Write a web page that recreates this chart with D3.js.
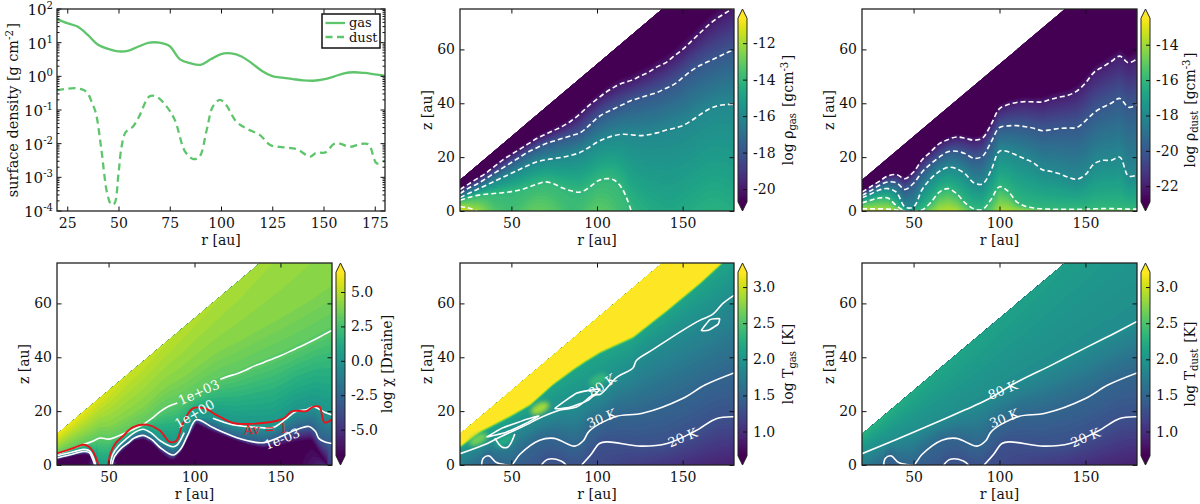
<!DOCTYPE html>
<html>
<head>
<meta charset="utf-8">
<script src="https://cdnjs.cloudflare.com/ajax/libs/d3/7.8.5/d3.min.js"></script>
<style>
body { margin: 0; background: #fff; }
text { font-family: "DejaVu Serif", serif; fill: #111; }
</style>
</head>
<body>
<script>
// radius grid shared by most of the arrays below (20, 25, ... 180 au)
var rGrid = [20,25,30,35,40,45,50,55,60,65,70,75,80,85,90,95,100,105,110,115,120,125,130,135,140,145,150,155,160,165,170,175,180];

// surface density panel
var sigmaGas = [50,38,30,17,8.7,6.5,5.5,5.8,7.8,10,10,7.8,3.2,2.45,2.2,3.2,4.6,4.8,3.9,2.45,1.45,1.02,0.91,0.83,0.76,0.74,0.81,0.98,1.23,1.32,1.26,1.15,1.05];
var sigmaDustR = [20,25,30,33,35,37,39,41.5,44.5,46.5,48,50,51.5,53.5,57,60,65,68.5,73.5,77.5,82.5,86.5,89.5,93,96,99.5,102.5,107.5,112.5,119,124,130.5,137,143.5,146.5,151,155,158,163,168,172,176,180];
var sigmaDust = [0.38,0.43,0.44,0.39,0.31,0.17,0.079,0.0079,0.00033,0.000155,0.000166,0.0013,0.0081,0.022,0.032,0.063,0.25,0.25,0.126,0.05,0.0058,0.0035,0.0041,0.025,0.126,0.2,0.14,0.045,0.028,0.018,0.0091,0.0078,0.0069,0.0041,0.0054,0.0055,0.0098,0.01,0.0081,0.0098,0.0095,0.0026,0.0032];
var yExps = [-4,-3,-2,-1,0,1,2];

// upper edge of the model wedge
var edgeR = [20,60,100,140,180];
var edgeZ = [11.5,33,54.5,76,97.5];

// gas density contours (dashed) and midplane values
var rhoGasA = [8,10,12,14,16.5,19,21,23,25,27,28.5,30,31.5,33.5,36,39,41.5,44,46,47.5,48.5,50,51.5,53.5,55,57.5,60,63,66,69,71.5,73.5,75.5];
var rhoGasB = [6.5,8.5,10,12,14,16,18,20,22,23.5,25,26,27,28,29,31.5,34.5,36.5,38,39.5,41,42,43,44,45.5,47,49.5,52,54,55.5,57,58.5,60];
var rhoGasC = [5,6.5,8,9.5,11,12.5,14,15.5,17,18.3,19,19.5,20,20.7,21.7,23.5,25.5,27,28,28.5,28.3,28,28.3,29,30,30.7,31.7,33.5,35.7,37.7,39,39.5,39.7];
var rhoGasD = [4,5,5.8,6.2,6.5,6.8,7.2,7.8,8.8,10,10.8,10,8.5,7.5,7,8.5,11,12,11.5,8,0,-3,-3,-3,-3,-3,-3,-3,-3,-3,-3,-3,-3];
var rhoGasE = [1.7,1.1,0,-2,-2,-2,-2,-2,-2,-2,-2,-2,-2,-2,-2,-2,-2,-2,-2,-2,-2,-2,-2,-2,-2,-2,-2,-2,-2,-2,-2,-2,-2];
var rhoGasMid = [-11.3,-11.3,-11.9,-12.7,-13.4,-13.6,-13.7,-13.5,-13.2,-13,-13.1,-13.3,-13.6,-13.8,-13.7,-13.4,-13.2,-13.3,-13.5,-13.8,-14,-14.3,-14.5,-14.6,-14.7,-14.7,-14.6,-14.5,-14.4,-14.3,-14.3,-14.4,-14.5];

// dust density contours (dashed) and midplane values
var rhoDustA = [7,9,11,13,13.5,12,14.5,19,22,25,26.5,27.5,27,26.3,27,32,38,39.5,40.3,40.6,40.5,40.5,41.5,42.3,43,44.5,47.5,51.5,53.5,55.5,57.5,55,56.5];
var rhoDustB = [5.8,7.5,9.5,10.8,10.5,8,10.3,14.5,17.5,20,22,22.2,21.3,19.6,20.3,25.5,31,31.6,31.7,31.3,30.7,29.8,30.2,30.7,30.8,31,33.5,36.5,38.5,40,41.8,38.5,39.5];
var rhoDustC = [5,6.3,7.8,8.3,7,1.5,1.5,8,12,14.7,16.2,15.7,13.8,10.5,10,15,22.2,22,20.7,19.3,17.8,15.3,14.7,13.8,12.5,11.8,13.5,17.5,18.8,18.8,20,13,13.3];
var rhoDustD = [3,4,4.8,4.8,2,0,0,0.4,3.2,7,8.3,6.5,3,0.8,0.5,4.2,9,7.3,3.4,1.8,1.1,0.8,0.7,0.6,0.6,0.6,0.7,0.8,0.9,0.9,0.8,0.7,0.7];
var rhoDustE = [0.8,0.8,0.8,0.7,0.4,0,-1,-1,-1,-1,-1,-1,-1,-1,-1,-1,-1,-1,-1,-1,-1,-1,-1,-1,-1,-1,-1,-1,-1,-1,-1,-1,-1];
var rhoDustMid = [-13,-13,-13,-13.2,-14.5,-17,-17,-15.5,-14.5,-13.8,-13.6,-13.8,-14.5,-15.6,-15.8,-15,-13.8,-13.8,-14,-14,-14,-14,-14,-14,-14,-14,-14,-14,-14,-14,-14,-14,-14];

// radiation field contours, Av = 1 line
var chi3Z = [4,5.2,6.4,7.5,8.6,10,9.6,10.6,12,13.4,15,17.2,19.8,21.8,23,24.5,26.5,28.3,30.2,31.8,33,34,35.3,36.8,38,39.3,40.6,42,43.5,45,46.6,48.3,50];
var chi0R = [20,30,36,39,41,42.5,44,50,51,52.5,56,60,65,70,75,80,87.5,90,94,100,110.7,122,130,138,145.6,153,159,165,169,172.7,176,180];
var chi0Z = [3.4,5,5.8,5.2,3,0,-1,-1,0,4,7.2,9.5,12,13.3,11.8,9,6.8,7.5,12,17.5,17.4,15,14.3,13.9,13.9,17,19.9,20.5,21.6,20.7,19.5,18.6];
var chiM3R = [20,30,36,39,40.5,42,44,51,52,53.5,57,61,65,70,75,80,87.5,92,96,101,110.7,122,131,140.4,160,166.5,170.4,172.3,176,180];
var chiM3Z = [2.6,4.2,5,4.5,2.5,0,-1,-1,0,3.2,6,8,10,11,9.5,6.5,3.7,6,11,16.8,13.9,10.8,9,8.3,13.3,14.3,12.4,9.9,8.5,8];
var chiDeepR = [20,30,36,39,41,44,51,53,57,61,65,70,75,80,85,88,92,96,101,110,122,131,140,150,160,168,172,176,180];
var chiDeepZ = [1.8,3.4,4,3.5,1,-2,-2,1.8,4.5,6.8,9,9.6,8,4.8,2,1.8,4.5,9.5,15.2,12.4,9.5,7.5,6.2,7,8.5,9,5,1,-2];
var chiMidR = [20,38,42,44,50,52,55,160,170,180];
var chiMidV = [-7,-7,-3,0.5,0.5,-3,-7,-7,-6,-4.5];
var chiEdgeV = [6.3,5.4,4.9,4.6,4.4];
var avR = [20,30,35,38,41,43,44.2,46,48.5,49.8,51,54,58,64,72,80,85.5,89.5,93,99,107,110.7,122.4,129.4,151,157,165,169,172.7,175.6,180];
var avZ = [4.3,6.4,7.5,7,5,2,0,-2,-2,0,4,8,10.5,14,15,12.7,8.6,9,15,21,20.8,19.3,15.6,15.2,17,20,20,21.6,21.6,15.8,17];

// temperature contours
var t80GasR = [20,36,43.4,59,65,78.4,88,97.8,102,111.5,121,123,133,150,160,167.7,173.5,180];
var t80GasZ = [4.2,8,10.4,15,17,20.4,21.5,26,26.3,32.5,36,38.8,43,50,53.7,56,60,63];
var t80DustR = [20,40,65.5,80,92.7,110,130,150,165,180];
var t80DustZ = [4.2,9.5,16.4,20.5,24.2,30.7,37,43.5,48.3,53.3];
var t30R = [20,30,32.6,33.6,36.9,41.3,46,50,55,66.5,75,87,92,95.6,111,126.6,150,163,180];
var t30Z = [-3,-1,0,2.5,3.4,0.9,0.2,0,4,9.2,9.9,7,9,12.7,18,19.2,24.7,29.7,34.2];
var t20R = [20,60,67.5,71.4,79,82,86,91,96.6,101.4,106,125.6,141,157.6,170,180];
var t20Z = [-3,-2,0,2.1,1.5,0,-0.5,0,4,8,8.6,7,8,12.7,17.3,17.9];
var tMidR = [20,30,37,45,50,60,70,82,90,100,120,140,160,180];
var tMidV = [1.75,1.52,1.42,1.48,1.47,1.38,1.3,1.3,1.31,1.24,1.13,1.05,0.95,0.88];
var tDustEdgeV = [2.3,2.18,2.12,2.08,2.05];

// hot surface layer of the gas, closed loops and warm spots
var hotR = [20,32,49,61,74,86,93,102,121,140,160,172,180];
var hotZ = [7.4,13,18.6,23,30.4,36,39,42.5,48,57.5,68,75,80];
var loop1R = [35.7,45,52,59,66,58,47];
var loop1Z = [10.4,13.8,15.4,17,18.2,15.3,12.2];
var loop2R = [75.5,88.3,101.7,94.7,84.2];
var loop2Z = [21,26.7,28.2,24,21.4];
var loop3R = [161,166,171.6,170.6,165];
var loop3Z = [50,54,54.3,52.2,50];
var pocketR = [40.4,44.5,48,52];
var pocketZ = [10,6.7,6.7,11.5];
var warmR = [30.7,66.7,100.6,46];
var warmZ = [9.5,21,31.6,9];
var warmV = [2.65,2.85,2.35,2.2];

// contour labels
var chiLabels = [
    {text: "1e+03", r: 102.5, z: 27, angle: -24},
    {text: "1e+00", r: 100, z: 19, angle: -30},
    {text: "1e-03", r: 151, z: 9.7, angle: -22}
];
var avLabels = [{text: "Av = 1", r: 141.4, z: 13.4, angle: -3}];
var tGasLabels = [
    {text: "80 K", r: 103, z: 29.5, angle: -35},
    {text: "30 K", r: 102.7, z: 17.3, angle: -22},
    {text: "20 K", r: 150, z: 10.2, angle: -22}
];
var tDustLabels = [
    {text: "80 K", r: 101.8, z: 27.8, angle: -22},
    {text: "30 K", r: 102.7, z: 17.3, angle: -22},
    {text: "20 K", r: 150, z: 10.2, angle: -22}
];

var width = 1200, height = 504;
var green = "#5fc56c";
var tickSize = 14, tickLen = 4.5, labelSize = 14;

var svg = d3.select("body").append("svg")
    .attr("width", width)
    .attr("height", height)
    .style("display", "block");
var defs = svg.append("defs");
defs.append("filter").attr("id", "soft")
    .attr("x", "-50%").attr("y", "-50%").attr("width", "200%").attr("height", "200%")
    .append("feGaussianBlur").attr("stdDeviation", 2);

function zipPts(rs, zs) {
    return rs.map(function (r, i) { return [r, zs[i]]; });
}

// label is a list of [text, style] runs, style "sub" or "sup" shifts the run
function addRuns(sel, runs, size) {
    runs.forEach(function (run) {
        var t = sel.append("tspan").text(run[0]);
        if (run[1] == "sup") {
            t.attr("font-size", size * 0.72).attr("dy", -size * 0.36);
            sel.append("tspan").attr("dy", size * 0.36).text("\u200a");
        } else if (run[1] == "sub") {
            t.attr("font-size", size * 0.72).attr("dy", size * 0.2);
            sel.append("tspan").attr("dy", -size * 0.2).text("\u200a");
        }
    });
}

function vertLabel(xPos, yPos, runs, size) {
    var t = svg.append("text")
        .attr("transform", "translate(" + xPos + "," + yPos + ") rotate(-90)")
        .attr("text-anchor", "middle")
        .attr("font-size", size);
    addRuns(t, runs, size);
}

function drawFrame(g, w, h, x, y, xTicks, yTicks) {
    g.append("g").attr("transform", "translate(0," + h + ")")
        .call(d3.axisBottom(x).tickValues(xTicks).tickSizeInner(-tickLen).tickSizeOuter(0).tickPadding(7).tickFormat(d3.format("d")))
        .call(cleanAxis);
    g.append("g")
        .call(d3.axisTop(x).tickValues(xTicks).tickSizeInner(-tickLen).tickSizeOuter(0).tickFormat(""))
        .call(cleanAxis);
    if (yTicks) {
        g.append("g")
            .call(d3.axisLeft(y).tickValues(yTicks).tickSizeInner(-tickLen).tickSizeOuter(0).tickPadding(5).tickFormat(d3.format("d")))
            .call(cleanAxis);
        g.append("g").attr("transform", "translate(" + w + ",0)")
            .call(d3.axisRight(y).tickValues(yTicks).tickSizeInner(-tickLen).tickSizeOuter(0).tickFormat(""))
            .call(cleanAxis);
    }
    g.append("rect").attr("width", w).attr("height", h)
        .attr("fill", "none").attr("stroke", "#222").attr("stroke-width", 1.3);
}

function cleanAxis(a) {
    a.select(".domain").remove();
    a.selectAll("line").attr("stroke", "#111").attr("stroke-width", 1);
    a.selectAll("text").attr("font-size", tickSize).attr("font-family", "DejaVu Serif").attr("fill", "#111");
}

function drawColorbar(x0, y0, h, lo, hi, ticks, fmt, color) {
    var w = 9, cap = h / 22;
    var cy = d3.scaleLinear().domain([lo, hi]).range([y0 + h - cap, y0 + cap]);
    var g = svg.append("g");
    var steps = d3.range(lo, hi, (hi - lo) / 128);
    g.selectAll("rect").data(steps).enter().append("rect")
        .attr("x", x0).attr("width", w)
        .attr("y", function (d) { return cy(d) - (cy.range()[0] - cy.range()[1]) / 128 - 0.5; })
        .attr("height", (cy.range()[0] - cy.range()[1]) / 128 + 1)
        .attr("fill", function (d) { return color(d); });
    g.append("path")
        .attr("d", "M" + x0 + "," + (y0 + cap) + "L" + (x0 + w / 2) + "," + y0 + "L" + (x0 + w) + "," + (y0 + cap) + "Z")
        .attr("fill", color(hi));
    g.append("path")
        .attr("d", "M" + x0 + "," + (y0 + h - cap) + "L" + (x0 + w / 2) + "," + (y0 + h) + "L" + (x0 + w) + "," + (y0 + h - cap) + "Z")
        .attr("fill", color(lo));
    g.append("path")
        .attr("d", "M" + x0 + "," + (y0 + cap) + "L" + (x0 + w / 2) + "," + y0 + "L" + (x0 + w) + "," + (y0 + cap)
            + "L" + (x0 + w) + "," + (y0 + h - cap) + "L" + (x0 + w / 2) + "," + (y0 + h) + "L" + x0 + "," + (y0 + h - cap) + "Z")
        .attr("fill", "none").attr("stroke", "#222").attr("stroke-width", 1);
    g.append("g").attr("transform", "translate(" + (x0 + w) + ",0)")
        .call(d3.axisRight(cy).tickValues(ticks).tickSizeInner(-4).tickSizeOuter(0).tickPadding(6).tickFormat(fmt))
        .call(cleanAxis);
}

// value of the field between the layers, read column by column
function buildField(layers, midR, midV, nx, ny, rs, zs) {
    var mid = d3.scaleLinear().domain(midR).range(midV).clamp(true);
    var fns = layers.map(function (l) {
        return {
            z: d3.scaleLinear().domain(l.r).range(l.z).clamp(true),
            v: Array.isArray(l.v) ? d3.scaleLinear().domain(l.r).range(l.v).clamp(true) : function () { return l.v; }
        };
    });
    var values = new Array(nx * ny);
    for (var i = 0; i < nx; i++) {
        var r = rs(i + 0.5);
        var nodes = [{z: 0, v: mid(r)}];
        fns.forEach(function (f) {
            var z = f.z(r);
            if (z > 0) nodes.push({z: z, v: f.v(r)});
        });
        nodes.sort(function (a, b) { return a.z - b.z; });
        var prof = d3.scaleLinear()
            .domain(nodes.map(function (n) { return n.z; }))
            .range(nodes.map(function (n) { return n.v; }))
            .clamp(true);
        for (var j = 0; j < ny; j++) {
            values[i + j * nx] = prof(zs(j + 0.5));
        }
    }
    return values;
}

var panelCount = 0;
function heatPanel(p) {
    panelCount++;
    var w = p.x1 - p.x0, h = p.y1 - p.y0;
    var x = d3.scaleLinear().domain([20, 180]).range([0, w]);
    var y = d3.scaleLinear().domain([0, 75]).range([h, 0]);
    var color = function (v) {
        return d3.interpolateViridis(Math.max(0, Math.min(1, (v - p.lo) / (p.hi - p.lo))));
    };
    var g = svg.append("g").attr("transform", "translate(" + p.x0 + "," + p.y0 + ")");

    var wedgeId = "wedge" + panelCount, boxId = "box" + panelCount;
    var area = d3.area().x(function (d) { return x(d[0]); }).y0(y(0)).y1(function (d) { return y(d[1]); });
    defs.append("clipPath").attr("id", boxId).append("rect").attr("width", w).attr("height", h);
    defs.append("clipPath").attr("id", wedgeId).append("path").attr("d", area(zipPts(edgeR, edgeZ)));

    var nx = Math.round(w / 1.5), ny = Math.round(h / 1.5);
    var gx = d3.scaleLinear().domain([0, nx]).range([20, 180]);
    var gy = d3.scaleLinear().domain([0, ny]).range([75, 0]);
    var values = buildField(p.layers, p.midR, p.midV, nx, ny, gx, gy);
    var thresholds = d3.range(p.lo - 1.5, p.hi + 1.5, p.step);
    var contours = d3.contours().size([nx, ny]).thresholds(thresholds)(values);
    var px = d3.scaleLinear().domain([0, nx]).range([0, w]);
    var py = d3.scaleLinear().domain([0, ny]).range([0, h]);
    var geo = d3.geoPath(d3.geoTransform({
        point: function (a, b) { this.stream.point(px(a), py(b)); }
    }));

    var boxed = g.append("g").attr("clip-path", "url(#" + boxId + ")");
    var heat = boxed.append("g").attr("clip-path", "url(#" + wedgeId + ")");
    heat.selectAll("path").data(contours).enter().append("path")
        .attr("d", geo)
        .attr("fill", function (d) { return color(d.value + p.step / 2); });

    if (p.warm) {
        heat.selectAll("ellipse").data(warmR).enter().append("ellipse")
            .attr("transform", function (d, i) { return "translate(" + x(d) + "," + y(warmZ[i]) + ") rotate(-28)"; })
            .attr("rx", 10).attr("ry", 5)
            .attr("fill", function (d, i) { return color(warmV[i]); })
            .attr("filter", "url(#soft)");
    }

    var line = d3.line()
        .x(function (d) { return x(d[0]); })
        .y(function (d) { return y(d[1]); })
        .curve(d3.curveCatmullRom.alpha(0.5));

    // parts of a contour below the midplane or under a label are left out
    p.lines.forEach(function (l) {
        var gap = l.gap;
        var path = line.defined(function (d) {
            return d[1] >= 0 && (!gap || d[0] <= gap[0] || d[0] >= gap[1]);
        });
        boxed.append("path")
            .attr("d", path(zipPts(l.r, l.z)))
            .attr("fill", "none")
            .attr("stroke", l.color || "#fff")
            .attr("stroke-width", l.width || 1.6)
            .attr("stroke-dasharray", p.dash ? "5,3" : null);
    });

    var closed = d3.line()
        .x(function (d) { return x(d[0]); })
        .y(function (d) { return y(d[1]); })
        .curve(d3.curveCardinalClosed.tension(0.6));
    (p.loops || []).forEach(function (l) {
        boxed.append("path")
            .attr("d", closed(zipPts(l.r, l.z)))
            .attr("fill", "none").attr("stroke", "#fff").attr("stroke-width", 1.6);
    });
    (p.open || []).forEach(function (l) {
        boxed.append("path")
            .attr("d", d3.line().x(function (d) { return x(d[0]); }).y(function (d) { return y(d[1]); }).curve(d3.curveCatmullRom.alpha(0.5))(zipPts(l.r, l.z)))
            .attr("fill", "none").attr("stroke", "#fff").attr("stroke-width", 1.6);
    });

    (p.labels || []).forEach(function (l) {
        g.append("text")
            .attr("transform", "translate(" + x(l.r) + "," + y(l.z) + ") rotate(" + l.angle + ")")
            .attr("text-anchor", "middle").attr("dy", "0.35em")
            .attr("font-size", 13)
            .style("fill", l.color || "#fff")
            .text(l.text);
    });

    drawFrame(g, w, h, x, y, [50, 100, 150], [0, 20, 40, 60]);
    g.append("text").attr("x", w / 2).attr("y", h + 34)
        .attr("text-anchor", "middle").attr("font-size", labelSize).text("r [au]");
    vertLabel(p.x0 - 28.5, p.y0 + 101, [["z [au]"]], labelSize);

    drawColorbar(p.x1 + 4, p.y0, h, p.lo, p.hi, p.ticks, p.fmt, color);
    vertLabel(p.x1 + p.labelOff, p.y0 + 101, p.label, labelSize);
}

// top left panel
(function () {
    var x0 = 57, x1 = 385, y0 = 9, y1 = 211;
    var w = x1 - x0, h = y1 - y0;
    var x = d3.scaleLinear().domain([20, 180]).range([0, w]);
    var y = d3.scaleLog().domain([1e-4, 1e2]).range([h, 0]);
    var g = svg.append("g").attr("transform", "translate(" + x0 + "," + y0 + ")");
    defs.append("clipPath").attr("id", "box0").append("rect").attr("width", w).attr("height", h);

    var line = d3.line()
        .x(function (d) { return x(d[0]); })
        .y(function (d) { return y(d[1]); })
        .curve(d3.curveCatmullRom.alpha(0.5));
    var plot = g.append("g").attr("clip-path", "url(#box0)");
    plot.append("path").attr("d", line(zipPts(rGrid, sigmaGas)))
        .attr("fill", "none").attr("stroke", green).attr("stroke-width", 2.3);
    plot.append("path").attr("d", line(zipPts(sigmaDustR, sigmaDust)))
        .attr("fill", "none").attr("stroke", green).attr("stroke-width", 2.3).attr("stroke-dasharray", "7,4.5");

    var majors = yExps.map(function (e) { return Math.pow(10, e); });
    var minors = [];
    yExps.slice(0, -1).forEach(function (e) {
        d3.range(2, 10).forEach(function (k) { minors.push(k * Math.pow(10, e)); });
    });
    g.selectAll("line.minor").data(minors).enter().append("line")
        .attr("class", "minor").attr("x1", 0).attr("x2", 2.5)
        .attr("y1", y).attr("y2", y).attr("stroke", "#111");
    g.selectAll("line.minorr").data(minors).enter().append("line")
        .attr("class", "minorr").attr("x1", w - 2.5).attr("x2", w)
        .attr("y1", y).attr("y2", y).attr("stroke", "#111");
    g.selectAll("line.major").data(majors).enter().append("line")
        .attr("class", "major").attr("x1", 0).attr("x2", tickLen)
        .attr("y1", y).attr("y2", y).attr("stroke", "#111");
    g.selectAll("line.majorr").data(majors).enter().append("line")
        .attr("class", "majorr").attr("x1", w - tickLen).attr("x2", w)
        .attr("y1", y).attr("y2", y).attr("stroke", "#111");
    yExps.forEach(function (e) {
        var t = g.append("text")
            .attr("x", -4).attr("y", y(Math.pow(10, e)) + 6)
            .attr("text-anchor", "end").attr("font-size", tickSize + 1);
        t.append("tspan").text("10");
        t.append("tspan").attr("font-size", tickSize * 0.72).attr("dy", -6).text(e);
    });

    drawFrame(g, w, h, x, y, [25, 50, 75, 100, 125, 150, 175], null);
    g.append("text").attr("x", w / 2).attr("y", h + 34)
        .attr("text-anchor", "middle").attr("font-size", labelSize).text("r [au]");
    vertLabel(18, y0 + 101, [["surface density [g cm"], ["-2", "sup"], ["]"]], 14.4);

    // legend
    var lg = g.append("g").attr("transform", "translate(" + (322 - x0) + "," + (14 - y0) + ")");
    lg.append("rect").attr("width", 58).attr("height", 34)
        .attr("fill", "#fff").attr("stroke", "#111").attr("stroke-width", 1.5);
    lg.append("line").attr("x1", 3.5).attr("x2", 23).attr("y1", 9).attr("y2", 9)
        .attr("stroke", green).attr("stroke-width", 2.3);
    lg.append("line").attr("x1", 3.5).attr("x2", 23).attr("y1", 23).attr("y2", 23)
        .attr("stroke", green).attr("stroke-width", 2.3).attr("stroke-dasharray", "7,4.5");
    lg.append("text").attr("x", 27).attr("y", 13).attr("font-size", 13).text("gas");
    lg.append("text").attr("x", 27).attr("y", 28).attr("font-size", 13).text("dust");
})();

var fmt1 = function (d) { return d3.format(".1f")(d).replace("\u2212", "-"); };
var fmt0 = function (d) { return String(d); };

heatPanel({
    x0: 460, x1: 734, y0: 9, y1: 211, lo: -20.7, hi: -10.63, step: 0.12, dash: true,
    midR: rGrid, midV: rhoGasMid,
    layers: [
        {r: rGrid, z: rhoGasE, v: -12},
        {r: rGrid, z: rhoGasD, v: -14},
        {r: rGrid, z: rhoGasC, v: -16},
        {r: rGrid, z: rhoGasB, v: -18},
        {r: rGrid, z: rhoGasA, v: -20},
        {r: rGrid, z: rhoGasA.map(function (z, i) { return z + rGrid[i] * 0.03; }), v: -21}
    ],
    lines: [
        {r: rGrid, z: rhoGasA}, {r: rGrid, z: rhoGasB}, {r: rGrid, z: rhoGasC},
        {r: rGrid, z: rhoGasD}, {r: rGrid, z: rhoGasE}
    ],
    ticks: [-20, -18, -16, -14, -12], fmt: fmt0, labelOff: 59,
    label: [["log \u03c1"], ["gas", "sub"], [" [gcm"], ["-3", "sup"], ["]"]]
});

heatPanel({
    x0: 862, x1: 1137, y0: 9, y1: 211, lo: -22.88, hi: -12.5, step: 0.12, dash: true,
    midR: rGrid, midV: rhoDustMid,
    layers: [
        {r: rGrid, z: rhoDustE, v: -14},
        {r: rGrid, z: rhoDustD, v: -16},
        {r: rGrid, z: rhoDustC, v: -18},
        {r: rGrid, z: rhoDustB, v: -20},
        {r: rGrid, z: rhoDustA, v: -22},
        {r: rGrid, z: rhoDustA.map(function (z, i) { return z + rGrid[i] * 0.03; }), v: -23.5}
    ],
    lines: [
        {r: rGrid, z: rhoDustA}, {r: rGrid, z: rhoDustB}, {r: rGrid, z: rhoDustC},
        {r: rGrid, z: rhoDustD}, {r: rGrid, z: rhoDustE}
    ],
    ticks: [-22, -20, -18, -16, -14], fmt: fmt0, labelOff: 58,
    label: [["log \u03c1"], ["dust", "sub"], [" [gcm"], ["-3", "sup"], ["]"]]
});

heatPanel({
    x0: 57, x1: 332, y0: 263, y1: 465, lo: -6.9, hi: 6.44, step: 0.28, dash: false,
    midR: chiMidR, midV: chiMidV,
    layers: [
        {r: chiDeepR, z: chiDeepZ, v: -7},
        {r: chiM3R, z: chiM3Z, v: -3},
        {r: chi0R, z: chi0Z, v: 0},
        {r: rGrid, z: chi3Z, v: 3},
        {r: rGrid, z: chi3Z.map(function (z, i) { return z + rGrid[i] * 0.1; }), v: 4},
        {r: edgeR, z: edgeZ, v: chiEdgeV}
    ],
    lines: [
        {r: rGrid, z: chi3Z, gap: [90, 115]},
        {r: chi0R, z: chi0Z, gap: [94, 110.7]},
        {r: chiM3R, z: chiM3Z, gap: [140.4, 160]},
        {r: avR, z: avZ, gap: [129.4, 151], color: "#e8141c", width: 1.9}
    ],
    labels: chiLabels.concat(avLabels.map(function (l) {
        return {text: l.text, r: l.r, z: l.z, angle: l.angle, color: "#e8141c"};
    })),
    ticks: [-5, -2.5, 0, 2.5, 5], fmt: fmt1, labelOff: 60,
    label: [["log \u03c7 [Draine]"]]
});

heatPanel({
    x0: 460, x1: 734, y0: 263, y1: 465, lo: 0.664, hi: 3.206, step: 0.03, dash: false, warm: true,
    midR: tMidR, midV: tMidV,
    layers: [
        {r: t20R, z: t20Z, v: 1.3},
        {r: t30R, z: t30Z, v: 1.477},
        {r: t80GasR, z: t80GasZ, v: 1.9},
        {r: hotR, z: hotZ.map(function (z) { return z - 1.2; }), v: 2.15},
        {r: hotR, z: hotZ, v: 3.3}
    ],
    lines: [
        {r: t80GasR, z: t80GasZ, gap: [102, 111.5]},
        {r: t30R, z: t30Z, gap: [95.6, 111]},
        {r: t20R, z: t20Z, gap: [141, 157.6]}
    ],
    loops: [{r: loop1R, z: loop1Z}, {r: loop2R, z: loop2Z}, {r: loop3R, z: loop3Z}],
    open: [{r: pocketR, z: pocketZ}],
    labels: tGasLabels,
    ticks: [1, 1.5, 2, 2.5, 3], fmt: fmt1, labelOff: 59,
    label: [["log T"], ["gas", "sub"], [" [K]"]]
});

heatPanel({
    x0: 862, x1: 1137, y0: 263, y1: 465, lo: 0.664, hi: 3.206, step: 0.03, dash: false,
    midR: tMidR, midV: tMidV,
    layers: [
        {r: t20R, z: t20Z, v: 1.3},
        {r: t30R, z: t30Z, v: 1.477},
        {r: t80DustR, z: t80DustZ, v: 1.9},
        {r: edgeR, z: edgeZ, v: tDustEdgeV}
    ],
    lines: [
        {r: t80DustR, z: t80DustZ, gap: [92.7, 110]},
        {r: t30R, z: t30Z, gap: [95.6, 111]},
        {r: t20R, z: t20Z, gap: [141, 157.6]}
    ],
    labels: tDustLabels,
    ticks: [1, 1.5, 2, 2.5, 3], fmt: fmt1, labelOff: 58,
    label: [["log T"], ["dust", "sub"], [" [K]"]]
});
</script>
</body>
</html>
